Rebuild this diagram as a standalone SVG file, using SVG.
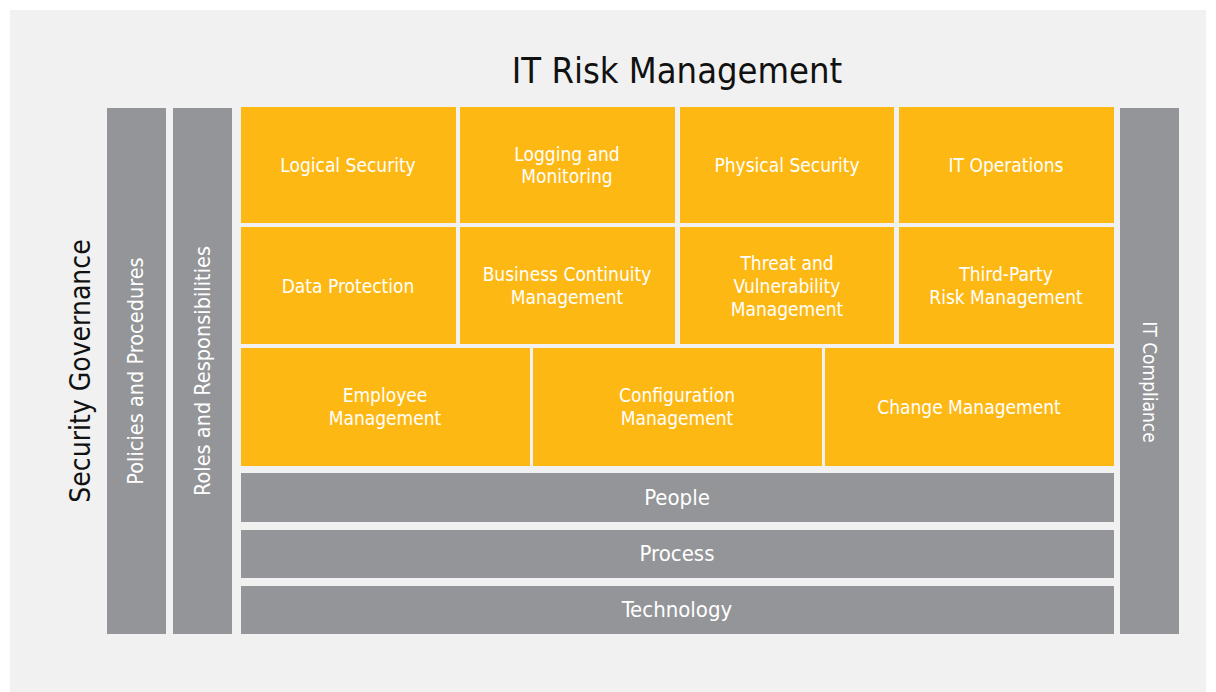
<svg xmlns="http://www.w3.org/2000/svg" width="1216" height="692" viewBox="0 0 1216 692">
<style>
.o{fill:#FDB813}
.g{fill:#939598}
.t{font-family:"Liberation Sans Narrow","DejaVu Sans Condensed","Liberation Sans",sans-serif;fill:#ffffff;font-size:19px;text-anchor:middle}
.b{font-size:22px}
.v{font-size:21.5px}
.h{font-family:"Liberation Sans Narrow","DejaVu Sans Condensed","Liberation Sans",sans-serif;fill:#111111;text-anchor:middle}
</style>
<rect x="0" y="0" width="1216" height="692" fill="#ffffff"/>
<rect x="10" y="10" width="1196" height="682" fill="#f1f1f1"/>
<text class="h" x="677" y="83" font-size="36">IT Risk Management</text>
<g id="security-governance"><text class="h" font-size="28" transform="translate(90,371) rotate(-90)">Security Governance</text></g>
<g id="policies"><rect class="g" x="107" y="108" width="59" height="526"/><text class="t v" transform="translate(143,371) rotate(-90)">Policies and Procedures</text></g>
<g id="roles"><rect class="g" x="173" y="108" width="59" height="526"/><text class="t v" transform="translate(210,371) rotate(-90)">Roles and Responsibilities</text></g>
<g id="it-compliance"><rect class="g" x="1120" y="108" width="59" height="526"/><text class="t" transform="translate(1143,382) rotate(90)">IT Compliance</text></g>
<g id="logical-security"><rect class="o" x="241" y="107" width="215" height="116"/><text class="t" x="348" y="172">Logical Security</text></g>
<g id="logging"><rect class="o" x="460" y="107" width="215" height="116"/><text class="t" x="567" y="161">Logging and</text><text class="t" x="567" y="183">Monitoring</text></g>
<g id="physical-security"><rect class="o" x="680" y="107" width="214" height="116"/><text class="t" x="787" y="172">Physical Security</text></g>
<g id="it-operations"><rect class="o" x="899" y="107" width="215" height="116"/><text class="t" x="1006" y="172">IT Operations</text></g>
<g id="data-protection"><rect class="o" x="241" y="227" width="215" height="117"/><text class="t" x="348" y="293">Data Protection</text></g>
<g id="bcm"><rect class="o" x="460" y="227" width="215" height="117"/><text class="t" x="567" y="281">Business Continuity</text><text class="t" x="567" y="304">Management</text></g>
<g id="threat"><rect class="o" x="680" y="227" width="214" height="117"/><text class="t" x="787" y="270">Threat and</text><text class="t" x="787" y="293">Vulnerability</text><text class="t" x="787" y="316">Management</text></g>
<g id="third-party"><rect class="o" x="899" y="227" width="215" height="117"/><text class="t" x="1006" y="281">Third-Party</text><text class="t" x="1006" y="304">Risk Management</text></g>
<g id="employee"><rect class="o" x="241" y="348" width="289" height="118"/><text class="t" x="385" y="402">Employee</text><text class="t" x="385" y="425">Management</text></g>
<g id="configuration"><rect class="o" x="533" y="348" width="289" height="118"/><text class="t" x="677" y="402">Configuration</text><text class="t" x="677" y="425">Management</text></g>
<g id="change"><rect class="o" x="825" y="348" width="289" height="118"/><text class="t" x="969" y="414">Change Management</text></g>
<g id="people"><rect class="g" x="241" y="473" width="873" height="49"/><text class="t b" x="677" y="505">People</text></g>
<g id="process"><rect class="g" x="241" y="530" width="873" height="48"/><text class="t b" x="677" y="561">Process</text></g>
<g id="technology"><rect class="g" x="241" y="586" width="873" height="48"/><text class="t b" x="677" y="617">Technology</text></g>
<g id="connectors"></g>
</svg>
